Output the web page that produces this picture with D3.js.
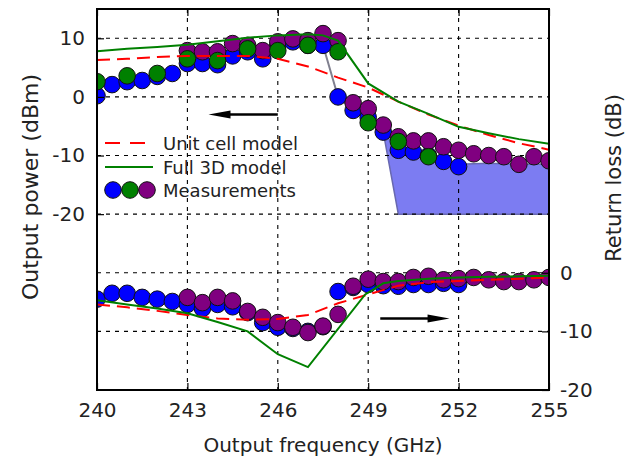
<!DOCTYPE html>
<html>
<head>
<meta charset="utf-8">
<script src="https://cdn.jsdelivr.net/npm/d3@7"></script>
<style>
  body { margin: 0; background: #fff; }
  text { font-family: "DejaVu Sans", sans-serif; fill: #222; }
</style>
</head>
<body>
<div id="vis"></div>
<script>
// axis ticks
var freqTicks = [240, 243, 246, 249, 252, 255];
var powerTicks = [10, 0, -10, -20];
var lossTicks = [0, -10, -20];
var gridPower = [10, 0, -10, -20, -30, -40];

// output power (left axis) - models
var unitPowerFreq = [240, 241, 242, 243, 244, 245, 246, 247, 248, 249, 250, 251, 252, 253, 254, 255];
var unitPower = [6.3, 6.5, 6.8, 7.0, 7.0, 7.0, 6.5, 5.2, 3.3, 1.6, -0.8, -3.0, -4.9, -6.5, -7.9, -9.0];
var fullPowerFreq = [240, 241, 242, 243, 244, 245, 246, 247, 247.5, 248, 249, 250, 251, 252, 253, 254, 255];
var fullPower = [7.8, 8.2, 8.5, 8.9, 9.5, 10.1, 10.5, 10.7, 10.5, 9.6, 2.3, -0.8, -2.9, -5.1, -6.2, -7.2, -8.0];

// output power - measurements
var bluePowerFreq = [240, 240.5, 241, 241.5, 242, 242.5, 243, 243.5, 244, 244.5, 245, 245.5, 246, 246.5, 247, 247.5, 248, 248.5, 249, 249.5, 250, 250.5, 251, 251.5, 252];
var bluePower = [0.2, 2.1, 2.6, 2.8, 3.5, 4.0, 5.7, 5.7, 5.5, 7.0, 7.7, 6.5, 8.8, 9.4, 8.8, 8.8, 0.0, -2.3, -3.5, -6.0, -9.1, -9.4, -10.0, -11.0, -11.9];
var greenPowerFreq = [240, 241, 242, 243, 244, 245, 246, 247, 248, 249, 250, 251];
var greenPower = [2.6, 3.6, 4.0, 6.5, 6.2, 8.2, 7.9, 8.8, 7.7, -4.4, -7.6, -10.2];
var purplePowerFreq = [243, 243.5, 244, 244.5, 245, 245.5, 246, 246.5, 247, 247.5, 248, 248.5, 249, 249.5, 250, 250.5, 251, 251.5, 252, 252.5, 253, 253.5, 254, 254.5, 255];
var purplePower = [7.9, 7.7, 7.7, 9.1, 8.8, 7.9, 9.4, 9.9, 9.6, 10.8, 9.6, -1.0, -2.0, -4.8, -6.8, -7.5, -7.5, -8.5, -9.1, -9.7, -10.0, -10.2, -11.5, -10.2, -10.9];

// shaded band under the measured roll-off
var bandEdgeFreq = [247.5, 248, 248.5, 249, 249.5];
var bandEdge = [8.8, 0.0, -2.3, -3.5, -6.0];
var bandFreq = [249.5, 250, 255, 255, 254, 253, 252, 251.5, 251, 250.5, 250, 249.5];
var band = [-6.0, -20, -20, -11.5, -11.5, -11.3, -11.5, -11.0, -10.0, -9.4, -9.1, -6.0];

// return loss (right axis) - models
var unitLossFreq = [240, 241, 242, 243, 244, 245, 246, 247, 248, 249, 250, 251, 252, 253, 254, 255];
var unitLoss = [-5.4, -5.9, -6.5, -7.2, -7.8, -8.0, -7.9, -7.2, -5.2, -3.7, -2.2, -1.6, -1.4, -1.2, -1.0, -0.8];
var fullLossFreq = [240, 241, 242, 243, 244, 245, 246, 247, 248.9, 249.5, 250, 251, 252, 253, 254, 255];
var fullLoss = [-4.7, -5.4, -6.1, -6.9, -8.4, -10.0, -13.9, -16.1, -3.7, -1.8, -1.4, -1.0, -0.8, -0.7, -0.6, -0.5];

// return loss - measurements
var blueLossFreq = [240, 240.5, 241, 241.5, 242, 242.5, 243, 243.5, 244, 244.5, 245, 245.5, 246, 246.5, 247, 247.5, 248, 248.5, 249, 249.5, 250, 250.5, 251, 251.5, 252];
var blueLoss = [-4.5, -3.5, -3.5, -4.2, -4.5, -4.9, -5.4, -6.1, -5.4, -5.8, -6.8, -8.5, -9.3, -9.5, -10.0, -9.2, -3.2, -2.5, -2.0, -2.2, -2.3, -2.0, -2.0, -1.8, -2.0];
var purpleLossFreq = [243, 243.5, 244, 244.5, 245, 245.5, 246, 246.5, 247, 247.5, 248, 248.5, 249, 249.5, 250, 250.5, 251, 251.5, 252, 252.5, 253, 253.5, 254, 254.5, 255];
var purpleLoss = [-4.2, -5.1, -4.2, -4.8, -6.6, -7.6, -8.5, -9.3, -10.2, -9.1, -7.1, -2.3, -1.1, -1.5, -1.5, -0.8, -0.6, -1.2, -1.0, -0.8, -1.2, -1.5, -1.5, -1.2, -0.8];

// arrows: [freq, value] tail -> head
var powerArrow = [[246, -3], [243.7, -3]];
var lossArrow = [[249.4, -7.8], [251.7, -7.8]];

var width = 638, height = 462;
var plotLeft = 97, plotRight = 549, plotTop = 9, plotBottom = 390;

var svg = d3.select("#vis").append("svg")
    .attr("width", width)
    .attr("height", height);

var x = d3.scaleLinear().domain([240, 255]).range([plotLeft, plotRight]);
var yL = d3.scaleLinear().domain([-50, 15]).range([plotBottom, plotTop]);
var yR = d3.scaleLinear().domain([-20, 45]).range([plotBottom, plotTop]);

svg.append("defs").append("clipPath").attr("id", "clip")
  .append("rect")
    .attr("x", plotLeft).attr("y", plotTop)
    .attr("width", plotRight - plotLeft).attr("height", plotBottom - plotTop);

var plot = svg.append("g").attr("clip-path", "url(#clip)");

function pairs(xs, ys) { return xs.map((f, i) => [f, ys[i]]); }

// shaded band
var bandLine = d3.line().x(d => x(d[0])).y(d => yL(d[1]));
plot.append("path")
    .attr("d", bandLine(pairs(bandFreq, band)) + "Z")
    .attr("fill", "#7c7cf2")
    .attr("stroke", "#6868b0")
    .attr("stroke-width", 1.5);
plot.append("path")
    .attr("d", bandLine(pairs(bandEdgeFreq, bandEdge)))
    .attr("fill", "none")
    .attr("stroke", "#80808f")
    .attr("stroke-width", 2);

// grid
plot.selectAll(".vgrid").data(freqTicks.slice(1, -1)).enter().append("line")
    .attr("x1", d => x(d)).attr("x2", d => x(d))
    .attr("y1", plotTop).attr("y2", plotBottom)
    .attr("stroke", "#000").attr("stroke-width", 1.1)
    .attr("stroke-dasharray", "4,5");
plot.selectAll(".hgrid").data(gridPower).enter().append("line")
    .attr("x1", plotLeft).attr("x2", plotRight)
    .attr("y1", d => yL(d)).attr("y2", d => yL(d))
    .attr("stroke", "#000").attr("stroke-width", 1.1)
    .attr("stroke-dasharray", "4,5");

// measurement markers
function dots(xs, ys, yScale, color) {
  plot.append("g").selectAll("circle")
    .data(pairs(xs, ys)).enter().append("circle")
      .attr("cx", d => x(d[0]))
      .attr("cy", d => yScale(d[1]))
      .attr("r", 8.3)
      .attr("fill", color)
      .attr("stroke", "#111")
      .attr("stroke-width", 1);
}
dots(blueLossFreq, blueLoss, yR, "#0000ff");
dots(purpleLossFreq, purpleLoss, yR, "#800080");
dots(bluePowerFreq, bluePower, yL, "#0000ff");
dots(purplePowerFreq, purplePower, yL, "#800080");
dots(greenPowerFreq, greenPower, yL, "#008000");

// model lines
function curve(xs, ys, yScale, color, dash) {
  var line = d3.line().x(d => x(d[0])).y(d => yScale(d[1]));
  plot.append("path")
    .attr("d", line(pairs(xs, ys)))
    .attr("fill", "none")
    .attr("stroke", color)
    .attr("stroke-width", 2)
    .attr("stroke-dasharray", dash || null);
}
curve(unitPowerFreq, unitPower, yL, "#ff0000", "13,7");
curve(fullPowerFreq, fullPower, yL, "#008000");
curve(unitLossFreq, unitLoss, yR, "#ff0000", "13,7");
curve(fullLossFreq, fullLoss, yR, "#008000");

// arrows
function arrow(a, yScale) {
  var x0 = x(a[0][0]), y0 = yScale(a[0][1]);
  var x1 = x(a[1][0]), y1 = yScale(a[1][1]);
  var dir = x1 > x0 ? 1 : -1;
  var headLen = 22, headW = 4;
  plot.append("line")
    .attr("x1", x0).attr("y1", y0)
    .attr("x2", x1 - dir * headLen * 0.6).attr("y2", y1)
    .attr("stroke", "#000").attr("stroke-width", 2.5);
  plot.append("path")
    .attr("d", "M" + x1 + "," + y1 +
               "L" + (x1 - dir * headLen) + "," + (y1 - headW) +
               "L" + (x1 - dir * headLen) + "," + (y1 + headW) + "Z")
    .attr("fill", "#000");
}
arrow(powerArrow, yL);
arrow(lossArrow, yR);

// axes (ticks pointing inward, as in the original); plain hyphen minus
var fmt = d => String(d);
var gx = svg.append("g").attr("transform", "translate(0," + plotBottom + ")")
    .call(d3.axisBottom(x).tickValues(freqTicks).tickSize(-7).tickPadding(13).tickFormat(fmt));
var gxTop = svg.append("g").attr("transform", "translate(0," + plotTop + ")")
    .call(d3.axisTop(x).tickValues(freqTicks).tickSize(-7).tickFormat(""));
var gyL = svg.append("g").attr("transform", "translate(" + plotLeft + ",0)")
    .call(d3.axisLeft(yL).tickValues(powerTicks).tickSize(-7).tickPadding(12).tickFormat(fmt));
var gyR = svg.append("g").attr("transform", "translate(" + plotRight + ",0)")
    .call(d3.axisRight(yR).tickValues(lossTicks).tickSize(-7).tickPadding(11).tickFormat(fmt));

[gx, gxTop, gyL, gyR].forEach(function(g) {
  g.select(".domain").remove();
  g.selectAll(".tick line").attr("stroke", "#000").attr("stroke-width", 1.2);
  g.selectAll(".tick text").style("font-size", "20px").attr("fill", "#222")
    .style("font-family", "'DejaVu Sans', sans-serif");
});

// frame
svg.append("rect")
    .attr("x", plotLeft).attr("y", plotTop)
    .attr("width", plotRight - plotLeft).attr("height", plotBottom - plotTop)
    .attr("fill", "none").attr("stroke", "#000").attr("stroke-width", 2);

// axis titles
svg.append("text")
    .attr("x", (plotLeft + plotRight) / 2).attr("y", 452)
    .attr("text-anchor", "middle")
    .style("font-size", "20px")
    .text("Output frequency (GHz)");
svg.append("text")
    .attr("transform", "translate(38,187) rotate(-90)")
    .attr("text-anchor", "middle")
    .style("font-size", "22px")
    .text("Output power (dBm)");
svg.append("text")
    .attr("transform", "translate(621,178) rotate(-90)")
    .attr("text-anchor", "middle")
    .style("font-size", "21px")
    .text("Return loss (dB)");

// legend
var legend = svg.append("g");
legend.append("line")
    .attr("x1", 105).attr("x2", 153).attr("y1", 143).attr("y2", 143)
    .attr("stroke", "#ff0000").attr("stroke-width", 2).attr("stroke-dasharray", "15,10");
legend.append("text").attr("x", 163).attr("y", 150).style("font-size", "18px").text("Unit cell model");
legend.append("line")
    .attr("x1", 105).attr("x2", 153).attr("y1", 167).attr("y2", 167)
    .attr("stroke", "#008000").attr("stroke-width", 2);
legend.append("text").attr("x", 163).attr("y", 174).style("font-size", "18px").text("Full 3D model");
var legendColors = ["#0000ff", "#008000", "#800080"];
legend.selectAll("circle").data(legendColors).enter().append("circle")
    .attr("cx", (d, i) => 113 + i * 17).attr("cy", 190).attr("r", 8.3)
    .attr("fill", d => d).attr("stroke", "#111").attr("stroke-width", 1);
legend.append("text").attr("x", 163).attr("y", 197).style("font-size", "18px").text("Measurements");
</script>
</body>
</html>
